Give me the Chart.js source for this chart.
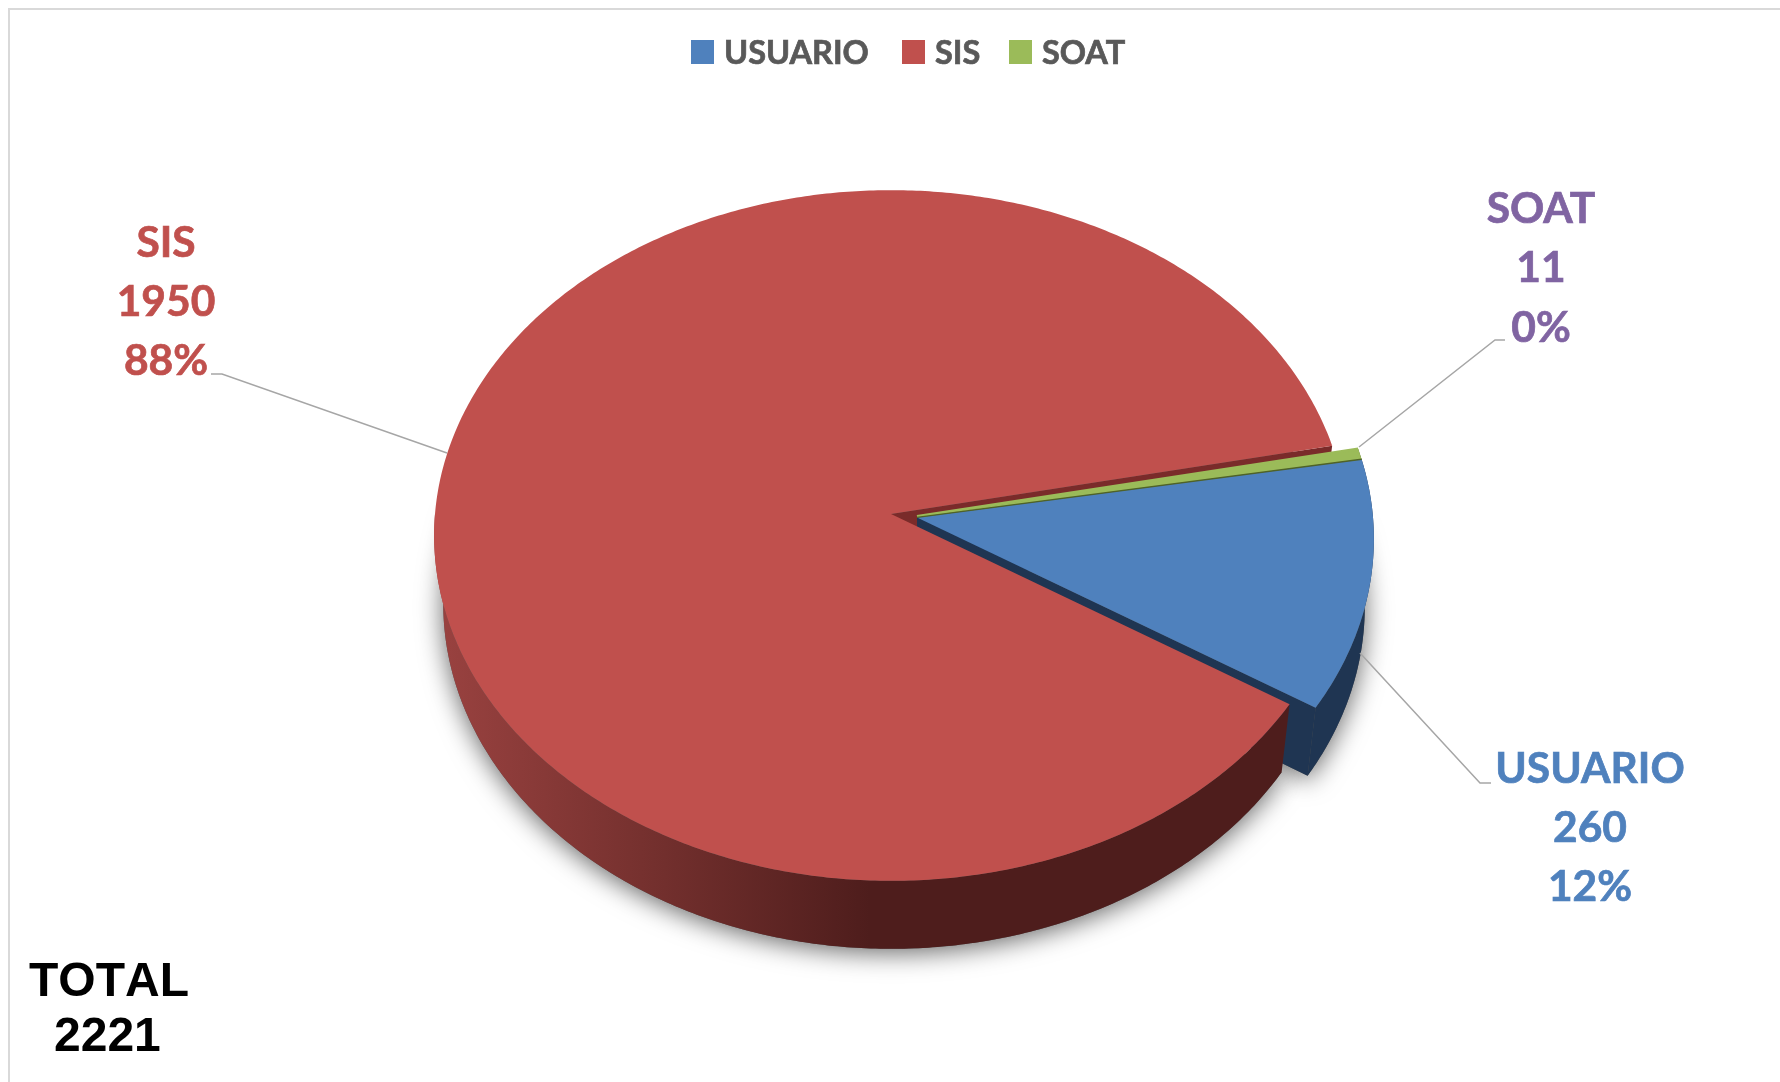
<!DOCTYPE html>
<html>
<head>
<meta charset="utf-8">
<title>Pacientes por financiador</title>
<style>
  html, body { margin: 0; padding: 0; background: #fff; }
  canvas { display: block; }
</style>
<script src="https://cdn.jsdelivr.net/npm/chart.js@4"></script>
</head>
<body>
<canvas id="grafica" width="1780" height="1082"></canvas>
<script>
const categorias = ["USUARIO", "SIS", "SOAT"];
const valores = [260, 1950, 11];
const total = 2221;

const colores = ["#4F81BD", "#C0504D", "#9BBB59"];
const coloresLado = ["#1F3552", "#4E1D1C", "#4F6228"];
const coloresEtiqueta = ["#4F81BD", "#C0504D", "#8064A2"];

// geometria de la torta en perspectiva
const cx = 891, cy = 514, rx = 456, ry = 344, persp = 0.0622;
const prof = 68, escalaBase = 0.98;

function proyectar(ang, sep) {
  const u = Math.cos(ang), v = Math.sin(ang);
  const w = 1 - persp * v;
  return { x: cx + sep + rx * u / w, y: cy + sep * 0.13 + ry * v / w };
}

function centro(sep) {
  return { x: cx + sep, y: cy + sep * 0.13 };
}

function bajar(p, sep) {
  const c = cx + sep;
  return { x: c + (p.x - c) * escalaBase, y: p.y + prof };
}

function puntosArco(arc, hasta) {
  const sep = arc.options.offset || 0;
  const fin = hasta === undefined ? arc.endAngle : Math.min(hasta, arc.endAngle);
  const pts = [];
  const n = Math.ceil((fin - arc.startAngle) / 0.01);
  for (let i = 0; i <= n; i++) {
    pts.push(proyectar(arc.startAngle + (fin - arc.startAngle) * i / n, sep));
  }
  return pts;
}

function trazar(ctx, pts) {
  ctx.beginPath();
  pts.forEach((p, i) => i ? ctx.lineTo(p.x, p.y) : ctx.moveTo(p.x, p.y));
  ctx.closePath();
}

function linea(ctx, a, b, color, ancho) {
  ctx.strokeStyle = color;
  ctx.lineWidth = ancho;
  ctx.beginPath();
  ctx.moveTo(a.x, a.y);
  ctx.lineTo(b.x, b.y);
  ctx.stroke();
}

// cara superior de la porcion
function dibujarTapa(ctx, arc, color) {
  const sep = arc.options.offset || 0;
  trazar(ctx, [centro(sep)].concat(puntosArco(arc)));
  ctx.fillStyle = color;
  ctx.fill();
}

// lado exterior y cortes de la porcion
function dibujarLado(ctx, arc, color) {
  const sep = arc.options.offset || 0;
  const pts = puntosArco(arc);
  const c = centro(sep);
  ctx.fillStyle = color;
  trazar(ctx, pts.concat(pts.map(p => bajar(p, sep)).reverse()));
  ctx.fill();
  trazar(ctx, [c, pts[0], bajar(pts[0], sep), bajar(c, sep)]);
  ctx.fill();
  trazar(ctx, [c, pts[pts.length - 1], bajar(pts[pts.length - 1], sep), bajar(c, sep)]);
  ctx.fill();
}

function dibujarSombra(ctx, arc) {
  const sep = arc.options.offset || 0;
  const pts = puntosArco(arc).map(p => bajar(p, sep));
  ctx.save();
  ctx.shadowColor = "rgba(0,0,0,0.6)";
  ctx.shadowBlur = 26;
  ctx.shadowOffsetY = 4;
  trazar(ctx, [bajar(centro(sep), sep)].concat(pts));
  ctx.fillStyle = "#555";
  ctx.fill();
  ctx.restore();
}

function texto(ctx, t, x, y) {
  ctx.strokeStyle = ctx.fillStyle;
  ctx.lineWidth = 0.7;
  ctx.strokeText(t, x, y);
  ctx.fillText(t, x, y);
}

const torta3d = {
  id: "torta3d",
  beforeDatasetsDraw(chart) {
    const ctx = chart.ctx;
    const [usuario, sis, soat] = chart.getDatasetMeta(0).data;

    ctx.save();
    dibujarSombra(ctx, sis);
    dibujarSombra(ctx, usuario);

    // pared del corte superior de SIS
    const ini = proyectar(sis.endAngle, 0);
    const c = centro(0);
    trazar(ctx, [c, ini, bajar(ini, 0), bajar(c, 0)]);
    ctx.fillStyle = "#7A2B2A";
    ctx.fill();

    dibujarLado(ctx, soat, coloresLado[2]);
    dibujarLado(ctx, usuario, coloresLado[0]);
    dibujarTapa(ctx, soat, colores[2]);

    // SOAT es muy delgado: se refuerza el borde de arriba
    const sepS = soat.options.offset;
    const cS = centro(sepS);
    linea(ctx, { x: cS.x, y: cS.y - 1 }, proyectar(soat.startAngle, sepS), colores[2], 3);

    dibujarTapa(ctx, usuario, colores[0]);

    // filo oscuro entre SOAT y USUARIO
    linea(ctx, cS, proyectar(soat.endAngle, sepS), coloresLado[2], 1.5);

    // lado exterior de SIS con degradado, solo la parte de adelante
    const pts = puntosArco(sis, Math.PI);
    const grad = ctx.createLinearGradient(436, 0, 870, 0);
    grad.addColorStop(0, "#9A4240");
    grad.addColorStop(0.5, "#74302E");
    grad.addColorStop(1, "#4E1D1C");
    trazar(ctx, pts.concat(pts.map(p => bajar(p, 0)).reverse()));
    ctx.fillStyle = grad;
    ctx.fill();
    dibujarTapa(ctx, sis, colores[1]);
    ctx.restore();
    return false;
  },
  afterDraw(chart) {
    const ctx = chart.ctx;
    ctx.save();

    // marco
    ctx.strokeStyle = "#D9D9D9";
    ctx.lineWidth = 2;
    ctx.beginPath();
    ctx.moveTo(9, 1082);
    ctx.lineTo(9, 9);
    ctx.lineTo(1780, 9);
    ctx.stroke();

    // leyenda
    const leyX = [691, 902, 1009];
    ctx.textAlign = "left";
    ctx.textBaseline = "alphabetic";
    ctx.font = "700 32.5px Lato";
    categorias.forEach((nombre, i) => {
      ctx.fillStyle = colores[i];
      ctx.fillRect(leyX[i], 40, 23, 24);
      ctx.fillStyle = "#595959";
      texto(ctx, nombre, leyX[i] + 33, 64);
    });

    // lineas guia
    const guias = [
      [[1360, 653], [1480, 783], [1491, 783]],
      [[447, 453], [222, 374], [211, 374]],
      [[1359, 447], [1495, 340], [1505, 340]]
    ];
    ctx.strokeStyle = "#A6A6A6";
    ctx.lineWidth = 1.5;
    guias.forEach(g => {
      ctx.beginPath();
      g.forEach((p, i) => i ? ctx.lineTo(p[0], p[1]) : ctx.moveTo(p[0], p[1]));
      ctx.stroke();
    });

    // etiquetas
    const etiqX = [1590, 166, 1541];
    const etiqY = [[783, 842, 901], [257, 316, 375], [223, 282, 342]];
    ctx.textAlign = "center";
    ctx.font = "700 42.5px Lato";
    categorias.forEach((nombre, i) => {
      const pct = Math.round(valores[i] / total * 100) + "%";
      ctx.fillStyle = coloresEtiqueta[i];
      [nombre, String(valores[i]), pct].forEach((t, j) => texto(ctx, t, etiqX[i], etiqY[i][j]));
    });

    // total
    ctx.fillStyle = "#000";
    ctx.textAlign = "left";
    ctx.font = "700 48px 'Liberation Sans'";
    ctx.fontKerning = "none";
    ctx.fillText("TOTAL", 29, 996);
    ctx.fillText(String(total), 54, 1051);
    ctx.restore();
  }
};

new Chart(document.getElementById("grafica").getContext("2d"), {
  type: "pie",
  data: {
    labels: categorias,
    datasets: [{
      data: valores,
      backgroundColor: colores,
      offset: [26, 0, 26],
      borderWidth: 0
    }]
  },
  options: {
    responsive: false,
    animation: false,
    rotation: 80.18,
    plugins: {
      legend: { display: false },
      tooltip: { enabled: false }
    }
  },
  plugins: [torta3d]
});
</script>
</body>
</html>
